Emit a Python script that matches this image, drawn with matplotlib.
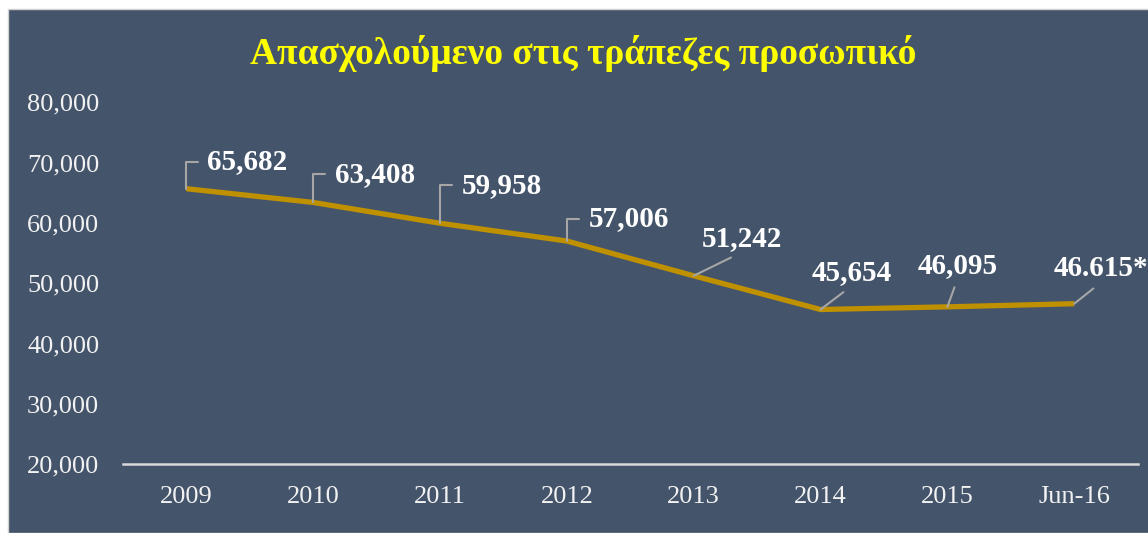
import numpy as np
import matplotlib
matplotlib.use("Agg")
import matplotlib.pyplot as plt
from matplotlib.patches import Rectangle

# data
years = ["2009", "2010", "2011", "2012", "2013", "2014", "2015", "Jun-16"]
staff = [65682, 63408, 59958, 57006, 51242, 45654, 46095, 46615]
labels = ["65,682", "63,408", "59,958", "57,006", "51,242", "45,654", "46,095", "46.615*"]

bg = "#44546A"
gold = "#BF9000"
serif = ["Liberation Serif", "DejaVu Serif"]

fig = plt.figure(figsize=(11.48, 5.33), dpi=100)
fig.patch.set_facecolor("white")
# slate panel (thin white border at top/left like the screenshot)
fig.patches.append(Rectangle((8 / 1148, 0), 1, 1 - 9 / 533, transform=fig.transFigure,
                             facecolor=bg, edgecolor="#D0D0D0", lw=1, zorder=-5))

ax = fig.add_axes([0.107, 0.129, 0.884, 0.679])
ax.set_zorder(2)
ax.patch.set_alpha(0)

x = np.arange(len(years))
ax.plot(x, staff, color=gold, lw=3.8, solid_capstyle="butt", zorder=3)

ax.set_xlim(-0.5, len(years) - 0.5)
ax.set_ylim(20000, 80000)
ax.set_yticks(np.arange(20000, 80001, 10000))
ax.yaxis.set_major_formatter(matplotlib.ticker.FuncFormatter(lambda v, p: f"{int(v):,}"))
ax.set_xticks(x)
ax.set_xticklabels(years)
ax.tick_params(axis="both", length=0, colors="#F2F2F2", labelsize=19)
ax.tick_params(axis="y", pad=17)
ax.tick_params(axis="x", pad=16)
for t in ax.get_xticklabels() + ax.get_yticklabels():
    t.set_family(serif)

for s in ["left", "right", "top"]:
    ax.spines[s].set_visible(False)
ax.spines["bottom"].set_color("#D9D9D9")
ax.spines["bottom"].set_linewidth(1.8)

# label offsets (pixels) and leader style
offs = [(21, 27), (22, 28), (22, 38), (22, 22), (48, 37), (31, 37), (10, 41), (27, 35)]
for i in range(len(years)):
    dx, dy = offs[i]
    if i < 4:
        ax.annotate(labels[i], (x[i], staff[i]), xytext=(dx, dy), textcoords="offset pixels",
                    ha="left", va="center", fontsize=21, fontweight="bold", color="white",
                    family=serif,
                    arrowprops=dict(arrowstyle="-", color="#A6A6A6", lw=1.5, shrinkA=5, shrinkB=0,
                                    relpos=(0, 0.5),
                                    connectionstyle="angle,angleA=0,angleB=90,rad=0"))
    else:
        ax.annotate(labels[i], (x[i], staff[i]), xytext=(dx, dy), textcoords="offset pixels",
                    ha="center", va="center", fontsize=21, fontweight="bold", color="white",
                    family=serif,
                    arrowprops=dict(arrowstyle="-", color="#A6A6A6", lw=1.5, shrinkA=4, shrinkB=0,
                                    relpos=(0.5, 0)))

fig.text(0.508, 0.90, "Απασχολούμενο στις τράπεζες προσωπικό", ha="center", va="center",
         fontsize=27, fontweight="bold", color="#FFFF00", family=serif)

fig.savefig("out.png", dpi=100, facecolor=fig.get_facecolor())
